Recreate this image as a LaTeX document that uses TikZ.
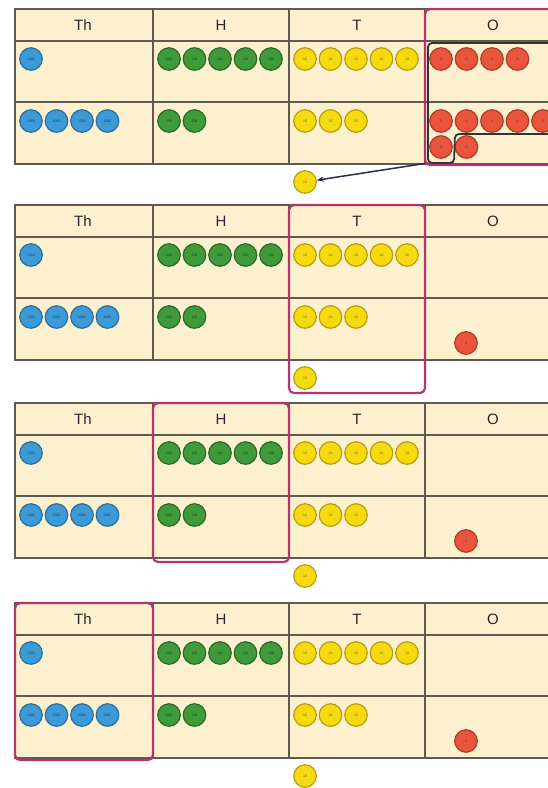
\documentclass[tikz,border=0pt]{standalone}
\usepackage{fontspec}
\setmainfont{Liberation Sans}
\usetikzlibrary{arrows.meta}
\definecolor{cellfill}{HTML}{FDF0CF}
\definecolor{gridline}{HTML}{5E5A52}
\definecolor{thoufill}{HTML}{3C9AD6}
\definecolor{thouline}{HTML}{2C6F9C}
\definecolor{hundfill}{HTML}{3E9A3A}
\definecolor{hundline}{HTML}{2B6B29}
\definecolor{tensfill}{HTML}{F5DA10}
\definecolor{tensline}{HTML}{B99E10}
\definecolor{onesfill}{HTML}{E8553C}
\definecolor{onesline}{HTML}{B23A28}
\definecolor{focus}{HTML}{B8336E}
\definecolor{arrowcol}{HTML}{2B2A55}
\tikzset{
  token/.style = {circle, draw, line width=1.2pt, minimum size=22.5pt, inner sep=0pt,
                  font=\fontsize{3.5}{3.5}\selectfont},
  thou/.style = {token, fill=thoufill, draw=thouline, text=thouline!60!black},
  hund/.style = {token, fill=hundfill, draw=hundline, text=hundline!60!black},
  tens/.style = {token, fill=tensfill, draw=tensline, text=tensline!60!black},
  ones/.style = {token, fill=onesfill, draw=onesline, text=onesline!60!black},
  header/.style = {font=\fontsize{15}{15}\selectfont, text=black!85},
  gridlines/.style = {draw=gridline, line width=1.1pt},
  focusbox/.style = {draw=focus, line width=2.2pt, rounded corners=5pt},
  tengroup/.style = {draw=black!80, line width=1.8pt, rounded corners=4pt},
  carryarrow/.style = {draw=arrowcol, line width=1.5pt, -{Stealth[length=7pt]}}
}

\begin{document}
\begin{tikzpicture}[x=1pt,y=-1pt]
\useasboundingbox (0,0) rectangle (548,788);
\clip (0,0) rectangle (548,788);

% row of tokens: name, style, x of first, y, count, value
\newcommand{\tokenrow}[6]{%
  \foreach \i in {1,...,#5}{%
    \node[#2] (#1-\i) at ({#3+(\i-1)*25.5},#4) {#6};%
  }%
}

% the four stages
\foreach \p/\yt in {1/9,2/205,3/403,4/603}{
  % place value table
  \fill[cellfill] (15,\yt) rectangle (561,\yt+155);
  \draw[gridlines] (15,\yt) rectangle (561,\yt+155);
  \draw[gridlines] (15,\yt+32) -- (561,\yt+32);
  \draw[gridlines] (15,\yt+93) -- (561,\yt+93);
  \foreach \xc in {153,289,425}
    \draw[gridlines] (\xc,\yt) -- (\xc,\yt+155);
  % column heads
  \foreach \c/\xl in {Th/15,H/153,T/289,O/425}
    \node[header] (p\p-head-\c) at (\xl+68,\yt+16) {\c};
  % first addend
  \tokenrow{p\p-Th1}{thou}{31}{\yt+50}{1}{1000}
  \tokenrow{p\p-H1}{hund}{169}{\yt+50}{5}{100}
  \tokenrow{p\p-T1}{tens}{305}{\yt+50}{5}{10}
  % second addend
  \tokenrow{p\p-Th2}{thou}{31}{\yt+112}{4}{1000}
  \tokenrow{p\p-H2}{hund}{169}{\yt+112}{2}{100}
  \tokenrow{p\p-T2}{tens}{305}{\yt+112}{3}{10}
  % carried ten
  \node[tens] (p\p-carry) at (305,\yt+173) {10};
}

% ones before regrouping
\tokenrow{p1-O1}{ones}{441}{59}{4}{1}
\tokenrow{p1-O2}{ones}{441}{121}{5}{1}
\tokenrow{p1-O3}{ones}{441}{147}{2}{1}

% ten ones make one ten
\coordinate (grp) at (428,163);
\draw[tengroup] (575,43) -- (428,43) -- (grp) -- (454,163) -- (455,134) -- (575,134);
\draw[carryarrow] (grp) -- (p1-carry);

% ones left over
\foreach \p/\yt in {2/205,3/403,4/603}
  \node[ones] (p\p-O2-1) at (466,\yt+138) {1};

% column being added
\draw[focusbox] (425,9) rectangle (580,165);
\draw[focusbox] (289,205) rectangle (425,393);
\draw[focusbox] (153,403) rectangle (289,562);
\draw[focusbox] (15,603) rectangle (153,760);
\end{tikzpicture}
\end{document}
